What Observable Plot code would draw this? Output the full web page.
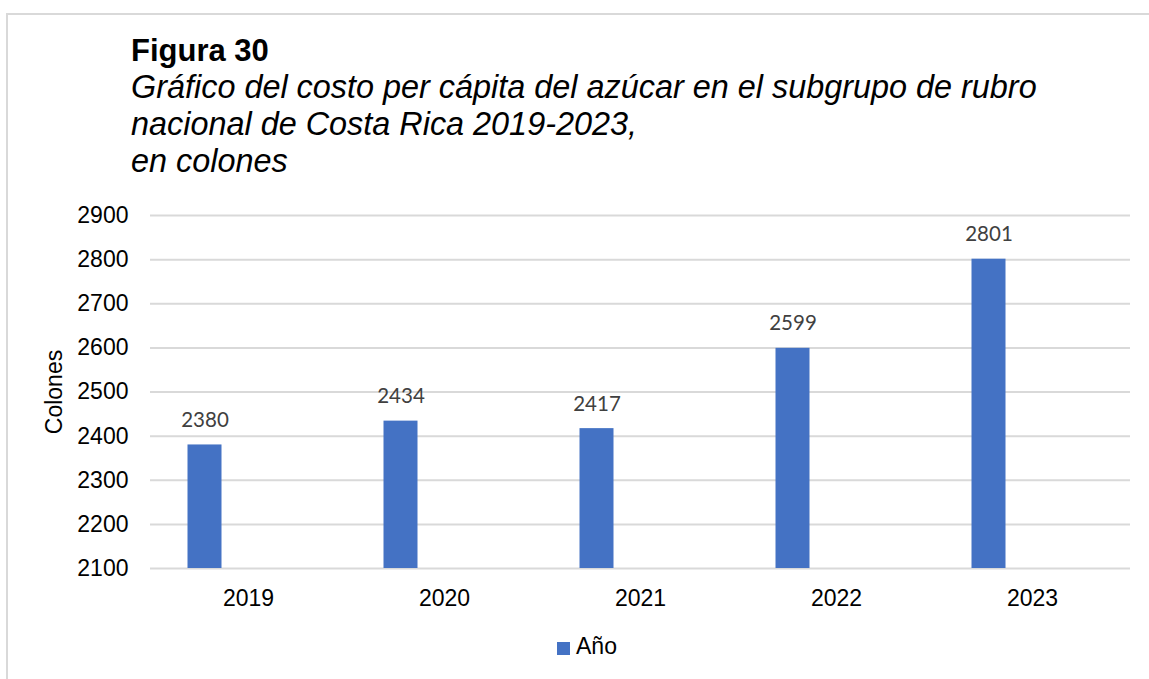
<!DOCTYPE html>
<html>
<head>
<meta charset="utf-8">
<script src="https://cdn.jsdelivr.net/npm/d3@7"></script>
<script src="https://cdn.jsdelivr.net/npm/@observablehq/plot@0.6"></script>
<style>
  html, body { margin: 0; padding: 0; background: #fff; }
  body { width: 1149px; height: 679px; position: relative; overflow: hidden; font-family: "Liberation Sans", Arial, sans-serif; }
  #frame { position: absolute; left: 6px; top: 13px; width: 1143px; height: 666px; border-top: 2px solid #d9d9d9; border-left: 2px solid #d9d9d9; box-sizing: border-box; }
  #fig { position: absolute; left: 131px; top: 35px; font-weight: bold; font-size: 31px; line-height: 31px; color: #000; white-space: nowrap; }
  #sub { position: absolute; left: 131px; top: 69px; font-style: italic; font-size: 32.4px; line-height: 37px; color: #000; white-space: nowrap; }
  #chart { position: absolute; left: 0; top: 190px; }
  #legend { position: absolute; left: 557px; top: 635px; font-size: 23px; line-height: 23px; color: #000; white-space: nowrap; }
  #legend .sw { position: absolute; left: 0; top: 7px; width: 13px; height: 13px; background: #4472C4; }
  #legend .lb { position: absolute; left: 19px; top: 0; }
</style>
</head>
<body>
<div id="frame"></div>
<div id="fig">Figura 30</div>
<div id="sub">Gráfico del costo per cápita del azúcar en el subgrupo de rubro<br>nacional de Costa Rica 2019-2023,<br>en colones</div>
<div id="chart"></div>
<div id="legend"><span class="sw"></span><span class="lb">Año</span></div>
<script>
const years = ["2019", "2020", "2021", "2022", "2023"];
const values = [2380, 2434, 2417, 2599, 2801];
const yTicks = [2100, 2200, 2300, 2400, 2500, 2600, 2700, 2800, 2900];
const seriesName = "Año";

const data = years.map((y, i) => ({year: y, value: values[i], series: seriesName}));
const yMin = yTicks[0], yMax = yTicks[yTicks.length - 1];

const plot = Plot.plot({
  width: 1149,
  height: 428,
  marginLeft: 150,
  marginRight: 19,
  marginTop: 25,
  marginBottom: 50,
  style: {fontFamily: '"Liberation Sans", Arial, sans-serif', background: "transparent", overflow: "visible", color: "#000"},
  x: {domain: years, type: "band", paddingInner: 0.8265, paddingOuter: 0.413},
  y: {domain: [yMin, yMax]},
  marks: [
    Plot.gridY(yTicks, {stroke: "#d9d9d9", strokeOpacity: 1, strokeWidth: 2}),
    Plot.barY(data, {x: "year", y1: yMin, y2: "value", fill: "#4472C4", dx: -43.5}),
    Plot.text(data, {x: "year", y: "value", text: d => String(d.value), dx: -43.5, dy: -24.5, lineAnchor: "middle",
      fill: "#404040", fontSize: 20.5, fontFamily: "Lato, 'Open Sans', sans-serif"}),
    Plot.axisX({tickSize: 0, tickPadding: 21, fontSize: 23, label: null}),
    Plot.axisY(yTicks, {tickSize: 0, tickPadding: 22, fontSize: 23, tickFormat: d => String(d), label: "Colones", labelAnchor: "center", labelArrow: "none", labelOffset: 105})
  ]
});
document.getElementById("chart").appendChild(plot);
</script>
</body>
</html>
